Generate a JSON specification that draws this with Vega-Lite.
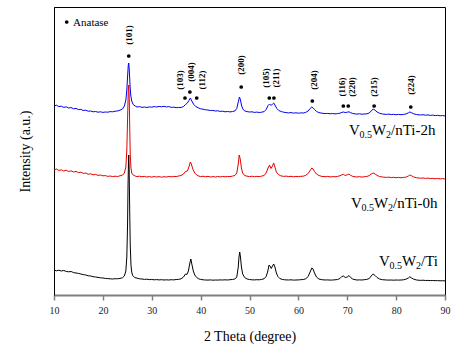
{
  "$schema": "https://vega.github.io/schema/vega-lite/v6.json",
  "width": 391,
  "height": 288,
  "autosize": {"type": "none"},
  "padding": {"left": 54, "top": 7, "right": 17, "bottom": 63},
  "background": "white",
  "config": {
    "view": {"stroke": "black", "strokeWidth": 1},
    "font": "Liberation Serif",
    "text": {"font": "Liberation Serif"},
    "axis": {"labelFont": "Liberation Serif", "titleFont": "Liberation Serif", "titleFontWeight": "normal", "labelColor": "#222", "titleColor": "#000"}
  },
  "datasets": {
    "spec": [
      {"s":"Ti","t":10,"i":25},{"s":"Ti","t":10.5,"i":24.2},{"s":"Ti","t":11,"i":24.8},{"s":"Ti","t":11.5,"i":24},{"s":"Ti","t":12,"i":24.5},{"s":"Ti","t":12.5,"i":23.6},{"s":"Ti","t":13,"i":23.2},{"s":"Ti","t":13.5,"i":23.5},{"s":"Ti","t":14,"i":22.4},{"s":"Ti","t":14.5,"i":22},{"s":"Ti","t":15,"i":21.6},{"s":"Ti","t":15.5,"i":21},{"s":"Ti","t":16,"i":20.4},{"s":"Ti","t":16.5,"i":20},{"s":"Ti","t":17,"i":19.2},{"s":"Ti","t":17.5,"i":19},{"s":"Ti","t":18,"i":18.3},{"s":"Ti","t":18.5,"i":18},{"s":"Ti","t":19,"i":17.6},{"s":"Ti","t":19.5,"i":17.2},{"s":"Ti","t":20,"i":17},{"s":"Ti","t":20.5,"i":16.6},{"s":"Ti","t":21,"i":16.4},{"s":"Ti","t":21.5,"i":16.2},{"s":"Ti","t":22,"i":16},{"s":"Ti","t":22.5,"i":16.3},{"s":"Ti","t":23,"i":16.2},{"s":"Ti","t":23.5,"i":16.6},{"s":"Ti","t":24,"i":17.2},{"s":"Ti","t":24.4,"i":19},{"s":"Ti","t":24.7,"i":24},{"s":"Ti","t":24.9,"i":38},{"s":"Ti","t":25.05,"i":70},{"s":"Ti","t":25.15,"i":110},{"s":"Ti","t":25.25,"i":135},{"s":"Ti","t":25.3,"i":140},{"s":"Ti","t":25.38,"i":125},{"s":"Ti","t":25.5,"i":80},{"s":"Ti","t":25.6,"i":50},{"s":"Ti","t":25.75,"i":30},{"s":"Ti","t":25.9,"i":23},{"s":"Ti","t":26.1,"i":19.5},{"s":"Ti","t":26.5,"i":17.5},{"s":"Ti","t":27,"i":16.8},{"s":"Ti","t":27.5,"i":16.2},{"s":"Ti","t":28,"i":16},{"s":"Ti","t":28.5,"i":15.6},{"s":"Ti","t":29,"i":15.8},{"s":"Ti","t":29.5,"i":15.4},{"s":"Ti","t":30,"i":15.5},{"s":"Ti","t":30.5,"i":15.2},{"s":"Ti","t":31,"i":15.4},{"s":"Ti","t":31.5,"i":15.1},{"s":"Ti","t":32,"i":15.3},{"s":"Ti","t":32.5,"i":15},{"s":"Ti","t":33,"i":15.2},{"s":"Ti","t":33.5,"i":15},{"s":"Ti","t":34,"i":15.3},{"s":"Ti","t":34.5,"i":15.1},{"s":"Ti","t":35,"i":15.5},{"s":"Ti","t":35.5,"i":15.6},{"s":"Ti","t":36,"i":16.2},{"s":"Ti","t":36.5,"i":18},{"s":"Ti","t":36.9,"i":21},{"s":"Ti","t":37.2,"i":20.5},{"s":"Ti","t":37.5,"i":24},{"s":"Ti","t":37.8,"i":32},{"s":"Ti","t":38,"i":36},{"s":"Ti","t":38.2,"i":31},{"s":"Ti","t":38.5,"i":24},{"s":"Ti","t":38.8,"i":20},{"s":"Ti","t":39.2,"i":17.5},{"s":"Ti","t":39.6,"i":16.2},{"s":"Ti","t":40,"i":15.6},{"s":"Ti","t":40.5,"i":15.2},{"s":"Ti","t":41,"i":15},{"s":"Ti","t":41.5,"i":14.9},{"s":"Ti","t":42,"i":15.1},{"s":"Ti","t":42.5,"i":14.8},{"s":"Ti","t":43,"i":15},{"s":"Ti","t":43.5,"i":14.9},{"s":"Ti","t":44,"i":15.1},{"s":"Ti","t":44.5,"i":15},{"s":"Ti","t":45,"i":15.2},{"s":"Ti","t":45.5,"i":15},{"s":"Ti","t":46,"i":15.3},{"s":"Ti","t":46.5,"i":15.5},{"s":"Ti","t":47,"i":16},{"s":"Ti","t":47.4,"i":18},{"s":"Ti","t":47.7,"i":28},{"s":"Ti","t":47.85,"i":38},{"s":"Ti","t":48,"i":43},{"s":"Ti","t":48.15,"i":38},{"s":"Ti","t":48.35,"i":28},{"s":"Ti","t":48.6,"i":21},{"s":"Ti","t":49,"i":17.5},{"s":"Ti","t":49.5,"i":16},{"s":"Ti","t":50,"i":15.5},{"s":"Ti","t":50.5,"i":15.2},{"s":"Ti","t":51,"i":15.1},{"s":"Ti","t":51.5,"i":15.3},{"s":"Ti","t":52,"i":15.2},{"s":"Ti","t":52.5,"i":15.6},{"s":"Ti","t":53,"i":16.3},{"s":"Ti","t":53.4,"i":18.5},{"s":"Ti","t":53.7,"i":23},{"s":"Ti","t":54,"i":30},{"s":"Ti","t":54.2,"i":29},{"s":"Ti","t":54.45,"i":26.5},{"s":"Ti","t":54.7,"i":29},{"s":"Ti","t":54.95,"i":31},{"s":"Ti","t":55.2,"i":28},{"s":"Ti","t":55.5,"i":22},{"s":"Ti","t":55.8,"i":18.5},{"s":"Ti","t":56.2,"i":16.5},{"s":"Ti","t":56.7,"i":15.6},{"s":"Ti","t":57.2,"i":15.2},{"s":"Ti","t":58,"i":15},{"s":"Ti","t":58.5,"i":15.2},{"s":"Ti","t":59,"i":14.9},{"s":"Ti","t":59.5,"i":15},{"s":"Ti","t":60,"i":15.1},{"s":"Ti","t":60.5,"i":15.3},{"s":"Ti","t":61,"i":15.5},{"s":"Ti","t":61.5,"i":16.2},{"s":"Ti","t":62,"i":18.5},{"s":"Ti","t":62.4,"i":23},{"s":"Ti","t":62.75,"i":27},{"s":"Ti","t":63,"i":26},{"s":"Ti","t":63.3,"i":22},{"s":"Ti","t":63.7,"i":18},{"s":"Ti","t":64.2,"i":16},{"s":"Ti","t":64.8,"i":15.3},{"s":"Ti","t":65.5,"i":15},{"s":"Ti","t":66,"i":15.1},{"s":"Ti","t":66.5,"i":14.9},{"s":"Ti","t":67,"i":15},{"s":"Ti","t":67.5,"i":15.2},{"s":"Ti","t":68,"i":15.5},{"s":"Ti","t":68.5,"i":16.5},{"s":"Ti","t":68.9,"i":18.5},{"s":"Ti","t":69.2,"i":19},{"s":"Ti","t":69.6,"i":17.5},{"s":"Ti","t":70,"i":18},{"s":"Ti","t":70.35,"i":19.5},{"s":"Ti","t":70.7,"i":17.5},{"s":"Ti","t":71.1,"i":16},{"s":"Ti","t":71.6,"i":15.3},{"s":"Ti","t":72,"i":15},{"s":"Ti","t":72.5,"i":15.1},{"s":"Ti","t":73,"i":15},{"s":"Ti","t":73.5,"i":15.3},{"s":"Ti","t":74,"i":15.6},{"s":"Ti","t":74.5,"i":16.5},{"s":"Ti","t":74.9,"i":19},{"s":"Ti","t":75.3,"i":21},{"s":"Ti","t":75.7,"i":19.5},{"s":"Ti","t":76.1,"i":17.5},{"s":"Ti","t":76.6,"i":16},{"s":"Ti","t":77.2,"i":15.3},{"s":"Ti","t":78,"i":15},{"s":"Ti","t":78.5,"i":14.9},{"s":"Ti","t":79,"i":15},{"s":"Ti","t":79.5,"i":14.8},{"s":"Ti","t":80,"i":15},{"s":"Ti","t":80.5,"i":14.9},{"s":"Ti","t":81,"i":15},{"s":"Ti","t":81.5,"i":15.2},{"s":"Ti","t":82,"i":15.8},{"s":"Ti","t":82.5,"i":17},{"s":"Ti","t":82.8,"i":18.2},{"s":"Ti","t":83.1,"i":17.2},{"s":"Ti","t":83.6,"i":15.8},{"s":"Ti","t":84.2,"i":15},{"s":"Ti","t":85,"i":14.6},{"s":"Ti","t":85.5,"i":14.8},{"s":"Ti","t":86,"i":14.5},{"s":"Ti","t":86.5,"i":14.6},{"s":"Ti","t":87,"i":14.4},{"s":"Ti","t":87.5,"i":14.5},{"s":"Ti","t":88,"i":14.3},{"s":"Ti","t":88.5,"i":14.4},{"s":"Ti","t":89,"i":14.2},{"s":"Ti","t":89.5,"i":14.3},{"s":"Ti","t":90,"i":14.1},

      {"s":"0h","t":10,"i":125},{"s":"0h","t":10.5,"i":126},{"s":"0h","t":11,"i":124.5},{"s":"0h","t":11.5,"i":125.2},{"s":"0h","t":12,"i":124},{"s":"0h","t":12.5,"i":124.8},{"s":"0h","t":13,"i":123.5},{"s":"0h","t":13.5,"i":124.2},{"s":"0h","t":14,"i":123},{"s":"0h","t":14.5,"i":123.6},{"s":"0h","t":15,"i":122.4},{"s":"0h","t":15.5,"i":122.8},{"s":"0h","t":16,"i":121.6},{"s":"0h","t":16.5,"i":122},{"s":"0h","t":17,"i":120.8},{"s":"0h","t":17.5,"i":121.2},{"s":"0h","t":18,"i":120.2},{"s":"0h","t":18.5,"i":120.6},{"s":"0h","t":19,"i":119.6},{"s":"0h","t":19.5,"i":120},{"s":"0h","t":20,"i":119.2},{"s":"0h","t":20.5,"i":119.4},{"s":"0h","t":21,"i":118.6},{"s":"0h","t":21.5,"i":119},{"s":"0h","t":22,"i":118.4},{"s":"0h","t":22.5,"i":118.8},{"s":"0h","t":23,"i":118.5},{"s":"0h","t":23.5,"i":119.2},{"s":"0h","t":24,"i":119.8},{"s":"0h","t":24.4,"i":122},{"s":"0h","t":24.7,"i":128},{"s":"0h","t":24.9,"i":145},{"s":"0h","t":25.05,"i":175},{"s":"0h","t":25.2,"i":205},{"s":"0h","t":25.3,"i":210},{"s":"0h","t":25.4,"i":195},{"s":"0h","t":25.5,"i":165},{"s":"0h","t":25.6,"i":140},{"s":"0h","t":25.75,"i":127},{"s":"0h","t":25.9,"i":122},{"s":"0h","t":26.2,"i":120},{"s":"0h","t":26.6,"i":119},{"s":"0h","t":27,"i":118.4},{"s":"0h","t":27.5,"i":118.8},{"s":"0h","t":28,"i":118.2},{"s":"0h","t":28.5,"i":118.6},{"s":"0h","t":29,"i":118},{"s":"0h","t":29.5,"i":118.4},{"s":"0h","t":30,"i":117.9},{"s":"0h","t":30.5,"i":118.5},{"s":"0h","t":31,"i":118},{"s":"0h","t":31.5,"i":118.4},{"s":"0h","t":32,"i":117.8},{"s":"0h","t":32.5,"i":118.3},{"s":"0h","t":33,"i":118},{"s":"0h","t":33.5,"i":118.5},{"s":"0h","t":34,"i":118.2},{"s":"0h","t":34.5,"i":118.6},{"s":"0h","t":35,"i":118.4},{"s":"0h","t":35.5,"i":119},{"s":"0h","t":36,"i":119.5},{"s":"0h","t":36.5,"i":121},{"s":"0h","t":36.9,"i":123.5},{"s":"0h","t":37.3,"i":124},{"s":"0h","t":37.6,"i":128},{"s":"0h","t":37.9,"i":133},{"s":"0h","t":38.1,"i":131},{"s":"0h","t":38.4,"i":126},{"s":"0h","t":38.8,"i":122},{"s":"0h","t":39.2,"i":120},{"s":"0h","t":39.6,"i":119},{"s":"0h","t":40,"i":118.4},{"s":"0h","t":40.5,"i":118.8},{"s":"0h","t":41,"i":118.2},{"s":"0h","t":41.5,"i":118.6},{"s":"0h","t":42,"i":118},{"s":"0h","t":42.5,"i":118.4},{"s":"0h","t":43,"i":118},{"s":"0h","t":43.5,"i":118.5},{"s":"0h","t":44,"i":118.1},{"s":"0h","t":44.5,"i":118.6},{"s":"0h","t":45,"i":118.2},{"s":"0h","t":45.5,"i":118.5},{"s":"0h","t":46,"i":118.4},{"s":"0h","t":46.5,"i":118.9},{"s":"0h","t":47,"i":119.5},{"s":"0h","t":47.4,"i":122},{"s":"0h","t":47.7,"i":131},{"s":"0h","t":47.9,"i":140},{"s":"0h","t":48.1,"i":136},{"s":"0h","t":48.35,"i":127},{"s":"0h","t":48.6,"i":122},{"s":"0h","t":49,"i":119.5},{"s":"0h","t":49.5,"i":118.8},{"s":"0h","t":50,"i":118.4},{"s":"0h","t":50.5,"i":118.8},{"s":"0h","t":51,"i":118.2},{"s":"0h","t":51.5,"i":118.6},{"s":"0h","t":52,"i":118.4},{"s":"0h","t":52.5,"i":118.9},{"s":"0h","t":53,"i":119.5},{"s":"0h","t":53.4,"i":122},{"s":"0h","t":53.8,"i":127},{"s":"0h","t":54.1,"i":130},{"s":"0h","t":54.4,"i":126.5},{"s":"0h","t":54.7,"i":129},{"s":"0h","t":54.95,"i":132},{"s":"0h","t":55.2,"i":128},{"s":"0h","t":55.5,"i":123},{"s":"0h","t":55.9,"i":120.5},{"s":"0h","t":56.4,"i":119.2},{"s":"0h","t":57,"i":118.6},{"s":"0h","t":57.5,"i":118.9},{"s":"0h","t":58,"i":118.4},{"s":"0h","t":58.5,"i":118.7},{"s":"0h","t":59,"i":118.2},{"s":"0h","t":59.5,"i":118.6},{"s":"0h","t":60,"i":118.3},{"s":"0h","t":60.5,"i":118.7},{"s":"0h","t":61,"i":118.8},{"s":"0h","t":61.5,"i":119.6},{"s":"0h","t":62,"i":121.5},{"s":"0h","t":62.4,"i":124.5},{"s":"0h","t":62.75,"i":127},{"s":"0h","t":63,"i":126},{"s":"0h","t":63.3,"i":123.5},{"s":"0h","t":63.7,"i":121},{"s":"0h","t":64.2,"i":119.5},{"s":"0h","t":64.8,"i":118.6},{"s":"0h","t":65.5,"i":118.3},{"s":"0h","t":66,"i":118.6},{"s":"0h","t":66.5,"i":118.1},{"s":"0h","t":67,"i":118.4},{"s":"0h","t":67.5,"i":118.2},{"s":"0h","t":68,"i":118.6},{"s":"0h","t":68.5,"i":119.2},{"s":"0h","t":68.9,"i":120.2},{"s":"0h","t":69.2,"i":120.6},{"s":"0h","t":69.6,"i":119.5},{"s":"0h","t":70,"i":120.2},{"s":"0h","t":70.35,"i":121},{"s":"0h","t":70.7,"i":119.6},{"s":"0h","t":71.1,"i":118.7},{"s":"0h","t":71.6,"i":118.2},{"s":"0h","t":72,"i":118},{"s":"0h","t":72.5,"i":118.4},{"s":"0h","t":73,"i":117.9},{"s":"0h","t":73.5,"i":118.3},{"s":"0h","t":74,"i":118.5},{"s":"0h","t":74.5,"i":119.4},{"s":"0h","t":74.9,"i":121},{"s":"0h","t":75.3,"i":122},{"s":"0h","t":75.7,"i":121},{"s":"0h","t":76.1,"i":119.6},{"s":"0h","t":76.6,"i":118.5},{"s":"0h","t":77.2,"i":118},{"s":"0h","t":78,"i":117.6},{"s":"0h","t":78.5,"i":117.9},{"s":"0h","t":79,"i":117.4},{"s":"0h","t":79.5,"i":117.7},{"s":"0h","t":80,"i":117.3},{"s":"0h","t":80.5,"i":117.6},{"s":"0h","t":81,"i":117.2},{"s":"0h","t":81.5,"i":117.6},{"s":"0h","t":82,"i":117.8},{"s":"0h","t":82.5,"i":119},{"s":"0h","t":82.8,"i":120},{"s":"0h","t":83.1,"i":119.4},{"s":"0h","t":83.6,"i":118},{"s":"0h","t":84.2,"i":117.2},{"s":"0h","t":85,"i":116.8},{"s":"0h","t":85.5,"i":117},{"s":"0h","t":86,"i":116.6},{"s":"0h","t":86.5,"i":116.9},{"s":"0h","t":87,"i":116.4},{"s":"0h","t":87.5,"i":116.7},{"s":"0h","t":88,"i":116.3},{"s":"0h","t":88.5,"i":116.5},{"s":"0h","t":89,"i":116.1},{"s":"0h","t":89.5,"i":116.4},{"s":"0h","t":90,"i":116},

      {"s":"2h","t":10,"i":189},{"s":"2h","t":10.5,"i":189.8},{"s":"2h","t":11,"i":188.4},{"s":"2h","t":11.5,"i":188.8},{"s":"2h","t":12,"i":187.6},{"s":"2h","t":12.5,"i":188.2},{"s":"2h","t":13,"i":187},{"s":"2h","t":13.5,"i":187.4},{"s":"2h","t":14,"i":186.2},{"s":"2h","t":14.5,"i":186.6},{"s":"2h","t":15,"i":185.4},{"s":"2h","t":15.5,"i":185.6},{"s":"2h","t":16,"i":184.5},{"s":"2h","t":16.5,"i":184.8},{"s":"2h","t":17,"i":183.8},{"s":"2h","t":17.5,"i":184},{"s":"2h","t":18,"i":183.2},{"s":"2h","t":18.5,"i":183.5},{"s":"2h","t":19,"i":182.8},{"s":"2h","t":19.5,"i":183.2},{"s":"2h","t":20,"i":182.6},{"s":"2h","t":20.5,"i":183},{"s":"2h","t":21,"i":182.8},{"s":"2h","t":21.5,"i":183.4},{"s":"2h","t":22,"i":183.2},{"s":"2h","t":22.5,"i":183.8},{"s":"2h","t":23,"i":184},{"s":"2h","t":23.5,"i":184.8},{"s":"2h","t":24,"i":186},{"s":"2h","t":24.4,"i":189},{"s":"2h","t":24.7,"i":195},{"s":"2h","t":24.9,"i":205},{"s":"2h","t":25.05,"i":218},{"s":"2h","t":25.2,"i":230},{"s":"2h","t":25.3,"i":232},{"s":"2h","t":25.4,"i":225},{"s":"2h","t":25.55,"i":210},{"s":"2h","t":25.7,"i":200},{"s":"2h","t":25.9,"i":194},{"s":"2h","t":26.2,"i":190.5},{"s":"2h","t":26.6,"i":189},{"s":"2h","t":27,"i":188},{"s":"2h","t":27.5,"i":188.4},{"s":"2h","t":28,"i":187.6},{"s":"2h","t":28.5,"i":188},{"s":"2h","t":29,"i":187.5},{"s":"2h","t":29.5,"i":188.1},{"s":"2h","t":30,"i":187.8},{"s":"2h","t":30.5,"i":188.4},{"s":"2h","t":31,"i":188},{"s":"2h","t":31.5,"i":188.6},{"s":"2h","t":32,"i":188.2},{"s":"2h","t":32.5,"i":188.7},{"s":"2h","t":33,"i":188.1},{"s":"2h","t":33.5,"i":188.4},{"s":"2h","t":34,"i":187.6},{"s":"2h","t":34.5,"i":187.9},{"s":"2h","t":35,"i":187.3},{"s":"2h","t":35.5,"i":187.6},{"s":"2h","t":36,"i":187.5},{"s":"2h","t":36.5,"i":188.5},{"s":"2h","t":36.9,"i":190.5},{"s":"2h","t":37.3,"i":192},{"s":"2h","t":37.6,"i":194.5},{"s":"2h","t":37.9,"i":197},{"s":"2h","t":38.2,"i":194},{"s":"2h","t":38.6,"i":190.5},{"s":"2h","t":39,"i":188.5},{"s":"2h","t":39.5,"i":187.2},{"s":"2h","t":40,"i":186.2},{"s":"2h","t":40.5,"i":185.8},{"s":"2h","t":41,"i":185.2},{"s":"2h","t":41.5,"i":185},{"s":"2h","t":42,"i":184.5},{"s":"2h","t":42.5,"i":184.6},{"s":"2h","t":43,"i":184},{"s":"2h","t":43.5,"i":184.2},{"s":"2h","t":44,"i":183.6},{"s":"2h","t":44.5,"i":183.8},{"s":"2h","t":45,"i":183.2},{"s":"2h","t":45.5,"i":183.5},{"s":"2h","t":46,"i":183.1},{"s":"2h","t":46.5,"i":183.4},{"s":"2h","t":47,"i":184},{"s":"2h","t":47.4,"i":186.5},{"s":"2h","t":47.7,"i":193},{"s":"2h","t":47.95,"i":198},{"s":"2h","t":48.15,"i":195},{"s":"2h","t":48.4,"i":189},{"s":"2h","t":48.7,"i":185.5},{"s":"2h","t":49,"i":184.2},{"s":"2h","t":49.5,"i":183.4},{"s":"2h","t":50,"i":183},{"s":"2h","t":50.5,"i":183.2},{"s":"2h","t":51,"i":182.6},{"s":"2h","t":51.5,"i":182.9},{"s":"2h","t":52,"i":182.5},{"s":"2h","t":52.5,"i":182.8},{"s":"2h","t":53,"i":183.4},{"s":"2h","t":53.4,"i":185.5},{"s":"2h","t":53.8,"i":189.5},{"s":"2h","t":54.1,"i":191},{"s":"2h","t":54.4,"i":189.5},{"s":"2h","t":54.7,"i":191},{"s":"2h","t":54.95,"i":192},{"s":"2h","t":55.2,"i":190},{"s":"2h","t":55.6,"i":186.5},{"s":"2h","t":56,"i":184.5},{"s":"2h","t":56.5,"i":183.4},{"s":"2h","t":57,"i":182.8},{"s":"2h","t":57.5,"i":182.4},{"s":"2h","t":58,"i":182.1},{"s":"2h","t":58.5,"i":182.4},{"s":"2h","t":59,"i":181.9},{"s":"2h","t":59.5,"i":182.2},{"s":"2h","t":60,"i":181.8},{"s":"2h","t":60.5,"i":182.1},{"s":"2h","t":61,"i":182},{"s":"2h","t":61.5,"i":182.6},{"s":"2h","t":62,"i":184},{"s":"2h","t":62.4,"i":186.5},{"s":"2h","t":62.75,"i":188},{"s":"2h","t":63,"i":187.2},{"s":"2h","t":63.3,"i":185.5},{"s":"2h","t":63.7,"i":183.6},{"s":"2h","t":64.2,"i":182.4},{"s":"2h","t":64.8,"i":181.8},{"s":"2h","t":65.5,"i":181.4},{"s":"2h","t":66,"i":181.6},{"s":"2h","t":66.5,"i":181.2},{"s":"2h","t":67,"i":181.5},{"s":"2h","t":67.5,"i":181.1},{"s":"2h","t":68,"i":181.4},{"s":"2h","t":68.5,"i":181.8},{"s":"2h","t":68.9,"i":182.6},{"s":"2h","t":69.2,"i":183},{"s":"2h","t":69.6,"i":182.4},{"s":"2h","t":70,"i":182.8},{"s":"2h","t":70.35,"i":183.2},{"s":"2h","t":70.7,"i":182.3},{"s":"2h","t":71.1,"i":181.6},{"s":"2h","t":71.6,"i":181.1},{"s":"2h","t":72,"i":180.9},{"s":"2h","t":72.5,"i":181.2},{"s":"2h","t":73,"i":180.8},{"s":"2h","t":73.5,"i":181},{"s":"2h","t":74,"i":181.2},{"s":"2h","t":74.5,"i":182},{"s":"2h","t":74.9,"i":184},{"s":"2h","t":75.3,"i":186},{"s":"2h","t":75.7,"i":184.8},{"s":"2h","t":76.1,"i":183},{"s":"2h","t":76.6,"i":181.8},{"s":"2h","t":77.2,"i":181},{"s":"2h","t":78,"i":180.6},{"s":"2h","t":78.5,"i":180.9},{"s":"2h","t":79,"i":180.4},{"s":"2h","t":79.5,"i":180.7},{"s":"2h","t":80,"i":180.3},{"s":"2h","t":80.5,"i":180.6},{"s":"2h","t":81,"i":180.3},{"s":"2h","t":81.5,"i":180.6},{"s":"2h","t":82,"i":181},{"s":"2h","t":82.5,"i":182.2},{"s":"2h","t":82.8,"i":183},{"s":"2h","t":83.1,"i":182.4},{"s":"2h","t":83.6,"i":181.2},{"s":"2h","t":84.2,"i":180.4},{"s":"2h","t":85,"i":180},{"s":"2h","t":85.5,"i":180.3},{"s":"2h","t":86,"i":179.8},{"s":"2h","t":86.5,"i":180.1},{"s":"2h","t":87,"i":179.6},{"s":"2h","t":87.5,"i":179.9},{"s":"2h","t":88,"i":179.4},{"s":"2h","t":88.5,"i":179.7},{"s":"2h","t":89,"i":179.2},{"s":"2h","t":89.5,"i":179.5},{"s":"2h","t":90,"i":179}
    ],
    "dots": [
      {"t":25.3,"i":239},{"t":36.8,"i":197},{"t":37.8,"i":203},{"t":39.2,"i":197},{"t":48.3,"i":208},{"t":54.05,"i":197},{"t":55.0,"i":197},{"t":62.85,"i":194},{"t":69.2,"i":189},{"t":70.2,"i":189},{"t":75.5,"i":189},{"t":83.0,"i":188},{"t":12.6,"i":273}
    ],
    "hkl": [
      {"h":"(101)","t":25.35,"i":260},{"h":"(103)","t":35.8,"i":215},{"h":"(004)","t":38.0,"i":223},{"h":"(112)","t":40.3,"i":215},{"h":"(200)","t":48.3,"i":230},{"h":"(105)","t":53.4,"i":217},{"h":"(211)","t":55.4,"i":217},{"h":"(204)","t":63.2,"i":215},{"h":"(116)","t":68.9,"i":208},{"h":"(220)","t":70.9,"i":208},{"h":"(215)","t":75.5,"i":208},{"h":"(224)","t":83.0,"i":210}
    ],
    "legend": [{"txt":"Anatase","t":13.9,"i":272}],
    "names": [
      {"suffix":"/nTi-2h","t":70.36,"i":160},
      {"suffix":"/nTi-0h","t":70.77,"i":87},
      {"suffix":"/Ti","t":76.5,"i":29}
    ]
  },
  "layer": [
    {
      "data": {"name": "spec"},
      "mark": {"type": "line", "strokeWidth": 1, "interpolate": "linear"},
      "encoding": {
        "x": {"field": "t", "type": "quantitative",
          "scale": {"domain": [10, 90], "nice": false},
          "axis": {"title": "2 Theta (degree)", "values": [10,15,20,25,30,35,40,45,50,55,60,65,70,75,80,85,90],
            "labelExpr": "datum.value % 10 == 0 ? datum.label : ''",
            "grid": false, "domainColor": "#808080", "domainWidth": 2,
            "tickColor": "#808080", "tickWidth": 1.5,
            "tickSize": {"condition": {"test": "datum.value % 10 == 0", "value": 5}, "value": 2},
            "labelFontSize": 10, "labelPadding": 5, "labelFlush": false,
            "titleFontSize": 14, "titlePadding": 14}},
        "y": {"field": "i", "type": "quantitative",
          "scale": {"domain": [0, 288], "nice": false, "zero": false},
          "axis": {"title": "Intensity (a.u.)", "labels": false, "ticks": false, "grid": false,
            "domainColor": "#000", "titleFontSize": 14, "titlePadding": 22}},
        "color": {"field": "s", "type": "nominal", "legend": null,
          "scale": {"domain": ["Ti", "0h", "2h"], "range": ["#000000", "#e60000", "#0000ee"]}},
        "order": {"field": "t", "type": "quantitative"}
      }
    },
    {
      "data": {"name": "dots"},
      "mark": {"type": "point", "filled": true, "color": "#000", "size": 14, "opacity": 1},
      "encoding": {
        "x": {"field": "t", "type": "quantitative"},
        "y": {"field": "i", "type": "quantitative"}
      }
    },
    {
      "data": {"name": "hkl"},
      "mark": {"type": "text", "angle": 270, "align": "center", "baseline": "middle", "font": "Liberation Serif", "fontSize": 9, "fontWeight": "bold", "color": "#000"},
      "encoding": {
        "x": {"field": "t", "type": "quantitative"},
        "y": {"field": "i", "type": "quantitative"},
        "text": {"field": "h"}
      }
    },
    {
      "data": {"name": "legend"},
      "mark": {"type": "text", "align": "left", "baseline": "middle", "font": "Liberation Serif", "fontSize": 11, "color": "#000"},
      "encoding": {
        "x": {"field": "t", "type": "quantitative"},
        "y": {"field": "i", "type": "quantitative"},
        "text": {"field": "txt"}
      }
    },
    {
      "data": {"name": "names"},
      "mark": {"type": "text", "text": "V", "align": "left", "baseline": "alphabetic", "font": "Liberation Serif", "fontSize": 15, "color": "#000"},
      "encoding": {"x": {"field": "t", "type": "quantitative"}, "y": {"field": "i", "type": "quantitative"}}
    },
    {
      "data": {"name": "names"},
      "mark": {"type": "text", "text": "0.5", "align": "left", "baseline": "alphabetic", "font": "Liberation Serif", "fontSize": 10, "dx": 10.5, "dy": 3, "color": "#000"},
      "encoding": {"x": {"field": "t", "type": "quantitative"}, "y": {"field": "i", "type": "quantitative"}}
    },
    {
      "data": {"name": "names"},
      "mark": {"type": "text", "text": "W", "align": "left", "baseline": "alphabetic", "font": "Liberation Serif", "fontSize": 15, "dx": 23, "color": "#000"},
      "encoding": {"x": {"field": "t", "type": "quantitative"}, "y": {"field": "i", "type": "quantitative"}}
    },
    {
      "data": {"name": "names"},
      "mark": {"type": "text", "text": "2", "align": "left", "baseline": "alphabetic", "font": "Liberation Serif", "fontSize": 10, "dx": 37, "dy": 3, "color": "#000"},
      "encoding": {"x": {"field": "t", "type": "quantitative"}, "y": {"field": "i", "type": "quantitative"}}
    },
    {
      "data": {"name": "names"},
      "mark": {"type": "text", "align": "left", "baseline": "alphabetic", "font": "Liberation Serif", "fontSize": 15, "dx": 42, "color": "#000"},
      "encoding": {"x": {"field": "t", "type": "quantitative"}, "y": {"field": "i", "type": "quantitative"}, "text": {"field": "suffix"}}
    }
  ]
}
